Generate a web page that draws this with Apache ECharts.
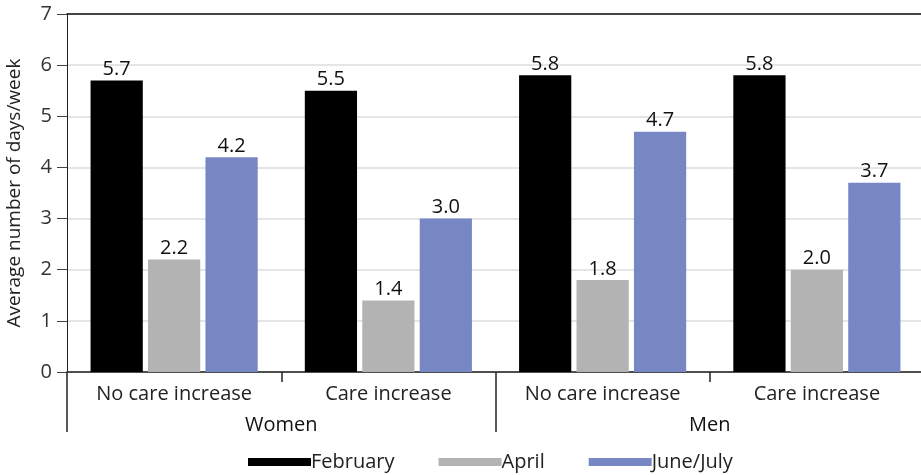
<!DOCTYPE html>
<html><head><meta charset="utf-8">
<script src="https://cdn.jsdelivr.net/npm/echarts@6/dist/echarts.min.js"></script>
<style>html,body{margin:0;padding:0;background:#fff}#c{width:921px;height:475px}</style>
</head><body><div id="c"></div>
<script>
const subCategories = ['No care increase', 'Care increase', 'No care increase', 'Care increase'];
const groups = ['Women', 'Men'];
const seriesNames = ['February', 'April', 'June/July'];
const february = [5.7, 5.5, 5.8, 5.8];
const april = [2.2, 1.4, 1.8, 2.0];
const juneJuly = [4.2, 3.0, 4.7, 3.7];
const yTicks = [0, 1, 2, 3, 4, 5, 6, 7];
const colors = ['#000000', '#b3b3b3', '#7787c4'];

const font = 'Open Sans';
const fs = 20;
const chart = echarts.init(document.getElementById('c'));
const values = [february, april, juneJuly];
chart.setOption({
  animation: false,
  textStyle: { fontFamily: font },
  grid: { left: 67, right: -3, top: 14, bottom: 103, containLabel: false, outerBoundsMode: 'none' },
  legend: {
    bottom: -2, left: 243,
    itemWidth: 63, itemHeight: 8, itemGap: 44,
    icon: 'rect',
    textStyle: { fontSize: fs, color: '#222', fontFamily: font, padding: [0, 0, 0, -5] },
    data: seriesNames
  },
  xAxis: [
    {
      type: 'category', data: subCategories, position: 'bottom',
      axisLine: { lineStyle: { color: '#444', width: 1.5 } },
      axisTick: { show: true, length: 10, lineStyle: { color: '#222', width: 1.5 } },
      axisLabel: { fontSize: fs, color: '#222', margin: 12, fontFamily: font }
    },
    {
      type: 'category', data: groups, position: 'bottom',
      axisLine: { show: true, lineStyle: { color: '#444', width: 1.5 } },
      axisTick: { show: true, length: 60, lineStyle: { color: '#222', width: 1.5 } },
      axisLabel: { fontSize: fs, color: '#111', margin: 43, fontFamily: font }
    },
    {
      type: 'category', data: subCategories, position: 'top',
      axisLine: { lineStyle: { color: '#111', width: 1.5 } },
      axisTick: { show: false }, axisLabel: { show: false }
    }
  ],
  yAxis: {
    type: 'value', min: 0, max: 7, interval: 1,
    name: 'Average number of days/week', nameLocation: 'middle', nameGap: 43,
    nameTextStyle: { fontSize: 19, color: '#222', fontFamily: font },
    axisLine: { show: true, lineStyle: { color: '#222' } },
    axisTick: { show: true, length: 10, lineStyle: { color: '#444' } },
    axisLabel: { fontSize: fs, color: '#333', margin: 15, fontFamily: font,
      formatter: v => yTicks.includes(v) ? String(v) : '' },
    splitLine: { lineStyle: { color: '#dcdcdc', width: 1.5 } }
  },
  series: seriesNames.map((n, i) => ({
    name: n, type: 'bar', xAxisIndex: 0, data: values[i],
    barGap: '10%', barCategoryGap: '22%',
    itemStyle: { color: colors[i] },
    label: { show: true, position: 'top', fontSize: fs, color: '#111', distance: 1,
      fontFamily: font, formatter: p => p.value.toFixed(1) }
  }))
});
</script></body></html>
